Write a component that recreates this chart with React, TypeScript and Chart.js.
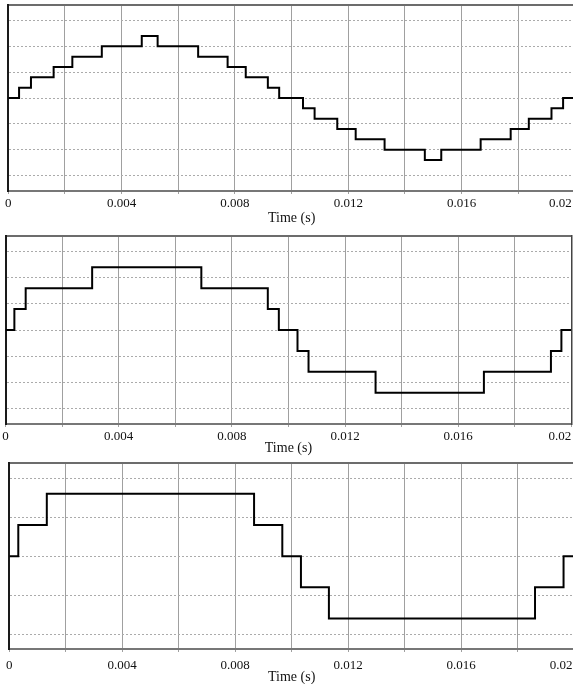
import React, { useEffect, useRef } from 'react';
import { Chart, registerables } from 'chart.js';

Chart.register(...registerables);

// ---- data ----
const xGridValues = [0, 0.002, 0.004, 0.006, 0.008, 0.01, 0.012, 0.014, 0.016, 0.018, 0.02];
const xTickLabels = ['0', '0.004', '0.008', '0.012', '0.016', '0.02'];
const xTitle = 'Time (s)';

// Panel 1: 13-level staircase
const t1 = [0, 0.00038, 0.0008, 0.0016, 0.00226, 0.0033, 0.00471, 0.00527, 0.0067, 0.00774, 0.00838, 0.00916, 0.00956,
  0.0104, 0.01081, 0.01161, 0.01226, 0.01328, 0.0147, 0.01528, 0.01667, 0.01773, 0.01837, 0.01917, 0.01958, 0.02];
const v1 = [0, 0.4, 0.8, 1.2, 1.6, 2.0, 2.4, 2.0, 1.6, 1.2, 0.8, 0.4, 0,
  -0.4, -0.8, -1.2, -1.6, -2.0, -2.4, -2.0, -1.6, -1.2, -0.8, -0.4, 0, 0];

// Panel 2: 7-level staircase
const t2 = [0, 0.00031, 0.00071, 0.00306, 0.00692, 0.00927, 0.00966, 0.01032, 0.01071, 0.01308, 0.01691, 0.01928, 0.01965, 0.02];
const v2 = [0, 0.8, 1.6, 2.4, 1.6, 0.8, 0, -0.8, -1.6, -2.4, -1.6, -0.8, 0, 0];

// Panel 3: 5-level staircase
const t3 = [0, 0.00032, 0.00133, 0.00867, 0.00967, 0.01033, 0.01132, 0.01862, 0.01963, 0.02];
const v3 = [0, 0.8, 1.6, 0.8, 0, -0.8, -1.6, -0.8, 0, 0];

const yGridA = [-3, -2, -1, 0, 1, 2, 3];
const yGridB = [-2, -1, 0, 1, 2];
const yLimitA = 3.6;
const yLimitB = 2.38;

const FONT = 'Liberation Serif';

type PanelProps = {
  t: number[];
  v: number[];
  yGrid: number[];
  yLim: number;
  top: number;
  height: number;
  width: number;
  padL: number;
  padR: number;
  padT: number;
  axisH: number;
  tickPad: number;
  titlePadB: number;
  lastSpaces: number;
};

function Panel(p: PanelProps) {
  const ref = useRef<HTMLCanvasElement | null>(null);
  useEffect(() => {
    if (!ref.current) return;
    const pts = p.t.map((x, i) => ({ x, y: p.v[i] }));
    const chart = new Chart(ref.current, {
      type: 'line',
      data: {
        datasets: [
          {
            data: pts,
            borderColor: '#000',
            borderWidth: 2,
            pointRadius: 0,
            stepped: 'before',
            fill: false,
          },
        ],
      },
      options: {
        animation: false,
        responsive: false,
        devicePixelRatio: 1,
        events: [],
        layout: { padding: { left: p.padL, right: p.padR, top: p.padT, bottom: 0 } },
        plugins: { legend: { display: false }, tooltip: { enabled: false } },
        scales: {
          x: {
            type: 'linear',
            position: 'bottom',
            min: 0,
            max: 0.02,
            afterBuildTicks: (s: any) => {
              s.ticks = xGridValues.map((value) => ({ value }));
            },
            afterFit: (s: any) => {
              s.height = p.axisH;
            },
            grid: { color: '#a0a0a0', lineWidth: 1, drawTicks: true, tickLength: 3, tickColor: '#a0a0a0' },
            border: { display: true, color: '#777', width: 2 },
            ticks: {
              autoSkip: false,
              maxRotation: 0,
              minRotation: 0,
              padding: p.tickPad,
              color: '#111',
              font: { family: FONT, size: 13 },
              callback: (val: any, i: number) => {
                if (i % 2 !== 0) return '';
                const lab = xTickLabels[i / 2];
                if (i === xGridValues.length - 1) return lab + ' '.repeat(p.lastSpaces);
                return lab;
              },
            },
            title: {
              display: true,
              text: xTitle,
              color: '#111',
              font: { family: FONT, size: 14 },
              padding: { top: 0, bottom: p.titlePadB },
            },
          },
          xTop: {
            type: 'linear',
            position: 'top',
            min: 0,
            max: 0.02,
            afterFit: (s: any) => {
              s.height = 0;
            },
            ticks: { display: false },
            grid: { display: false, drawTicks: false },
            border: { display: true, color: '#6c6c6c', width: 2 },
          },
          y: {
            type: 'linear',
            position: 'left',
            min: -p.yLim,
            max: p.yLim,
            afterBuildTicks: (s: any) => {
              s.ticks = p.yGrid.map((value) => ({ value }));
            },
            afterFit: (s: any) => {
              s.width = 0;
            },
            ticks: { display: false },
            grid: { color: '#ababab', lineWidth: 1, drawTicks: false },
            border: { display: true, color: '#1a1a1a', width: 2, dash: [2, 2] },
          },
          yRight: {
            type: 'linear',
            position: 'right',
            min: -p.yLim,
            max: p.yLim,
            afterFit: (s: any) => {
              s.width = 0;
            },
            ticks: { display: false },
            grid: { display: false, drawTicks: false },
            border: { display: true, color: '#444', width: 1.5 },
          },
        },
      } as any,
    });
    return () => chart.destroy();
  }, []);
  return (
    <canvas
      ref={ref}
      width={p.width}
      height={p.height}
      style={{ position: 'absolute', left: 0, top: p.top, width: p.width, height: p.height }}
    />
  );
}

export default function App() {
  return (
    <div
      style={{
        position: 'absolute',
        left: 0,
        top: 0,
        width: 573,
        height: 684,
        overflow: 'hidden',
        background: '#fff',
      }}
    >
      <Panel t={t1} v={v1} yGrid={yGridA} yLim={yLimitA} top={0} height={230} width={610}
        padL={8.3} padR={35} padT={5} axisH={39} tickPad={2} titlePadB={3} lastSpaces={9} />
      <Panel t={t2} v={v2} yGrid={yGridA} yLim={yLimitA} top={232} height={225} width={610}
        padL={5.6} padR={38.7} padT={4} axisH={33} tickPad={2} titlePadB={0} lastSpaces={7} />
      <Panel t={t3} v={v3} yGrid={yGridB} yLim={yLimitB} top={459} height={231} width={610}
        padL={7.7} padR={36} padT={4.3} axisH={41} tickPad={6} titlePadB={4} lastSpaces={8} />
    </div>
  );
}
